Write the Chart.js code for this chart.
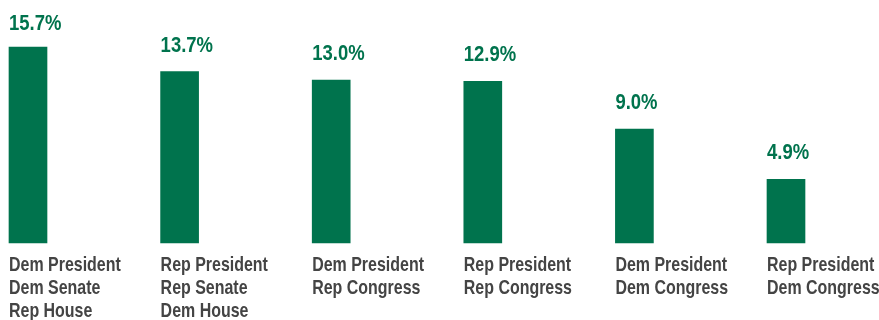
<!DOCTYPE html>
<html>
<head>
<meta charset="utf-8">
<script src="https://cdn.jsdelivr.net/npm/chart.js@4"></script>
<style>
	body { margin: 0; background: #fff; }
	#wrap { width: 879px; height: 320px; position: relative; }
</style>
</head>
<body>
<div id="wrap"><canvas id="myChart"></canvas></div>
<script>
// -- DATA ---------------//
const Labels = [
	['Dem President', 'Dem Senate', 'Rep House'],
	['Rep President', 'Rep Senate', 'Dem House'],
	['Dem President', 'Rep Congress'],
	['Rep President', 'Rep Congress'],
	['Dem President', 'Dem Congress'],
	['Rep President', 'Dem Congress'],
];
const Values = [15.7, 13.7, 13.0, 12.9, 9.0, 4.9];

const GREEN = '#00734d';
const GRAY = '#444444';
const FONT = '"Liberation Sans", Arial, sans-serif';

// text squeezed sideways to look like a condensed face
function narrowText(ctx, text, x, y, sx) {
	ctx.save();
	ctx.translate(x, y);
	ctx.scale(sx, 1);
	ctx.fillText(text, 0, 0);
	ctx.restore();
}

// draws value labels above and category labels below, left aligned to each bar
const barText = {
	id: 'barText',
	afterDatasetsDraw(chart) {
		const ctx = chart.ctx;
		const meta = chart.getDatasetMeta(0);
		ctx.save();
		ctx.textAlign = 'left';
		ctx.textBaseline = 'alphabetic';
		meta.data.forEach((bar, i) => {
			const left = bar.x - bar.width / 2;
			// value
			ctx.fillStyle = GREEN;
			ctx.font = 'bold 22px ' + FONT;
			narrowText(ctx, Values[i].toFixed(1) + '%', left, Math.max(bar.y - 20, 30), 0.84);
			// category
			ctx.fillStyle = GRAY;
			ctx.font = 'bold 21px ' + FONT;
			Labels[i].forEach((line, j) => {
				narrowText(ctx, line, left, bar.base + 28 + j * 23, 0.76);
			});
		});
		ctx.restore();
	}
};

const ctx1 = document.getElementById('myChart').getContext('2d');
const myChart = new Chart(ctx1, {
	type: 'bar',
	data: {
		labels: Labels,
		datasets: [
			{
				data: Values,
				backgroundColor: GREEN,
				borderWidth: 0,
				barThickness: 38,
				base: -0.3, // bars sit a little below zero, like the original
				clip: false,
			},
		],
	},
	options: {
		responsive: true,
		maintainAspectRatio: false,
		animation: false,
		layout: {
			padding: { left: 28, right: 93, top: 0, bottom: 77 }
		},
		plugins: {
			legend: { display: false },
			tooltip: { enabled: false },
		},
		scales: {
			x: {
				display: false,
				offset: false,
			},
			y: {
				display: false,
				min: -0.3,
				max: 19.55,
			},
		},
	},
	plugins: [barText],
});
</script>
</body>
</html>
